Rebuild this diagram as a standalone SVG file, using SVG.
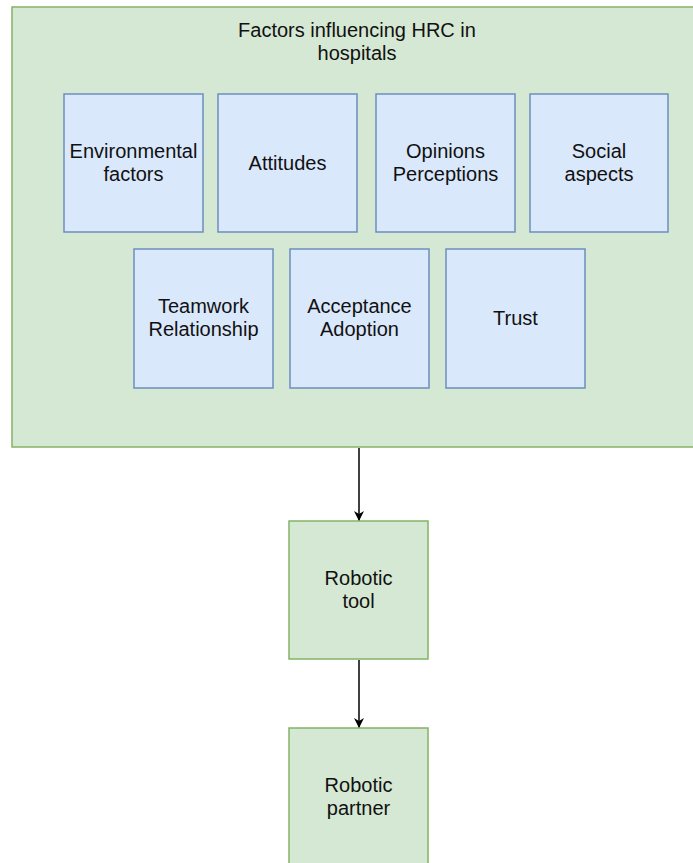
<svg xmlns="http://www.w3.org/2000/svg" width="693" height="863" viewBox="0 0 693 863">
<defs>
<style>
.g{fill:#d5e8d4;stroke:#82b366;stroke-width:1.5}
.b{fill:#dae8fc;stroke:#6c8ebf;stroke-width:1.5}
text{font-family:"Liberation Sans",Arial,Helvetica,sans-serif;font-size:20px;fill:#111;text-anchor:middle}
.c{stroke:#000;stroke-width:1.5;fill:none}
</style>
<marker id="ah" viewBox="0 0 10 10" refX="9" refY="5" markerWidth="10" markerHeight="10" markerUnits="userSpaceOnUse" orient="auto">
<path d="M0,0 L10,5 L0,10 L3,5 Z" fill="#000"/>
</marker>
</defs>
<rect width="693" height="863" fill="#fff"/>
<g id="container">
<rect class="g" x="12" y="7" width="695" height="440"/>
<text x="357" y="37">Factors influencing HRC in</text>
<text x="357" y="60">hospitals</text>
</g>
<g id="env"><rect class="b" x="64" y="94" width="139" height="138"/><text x="133.5" y="158">Environmental</text><text x="133.5" y="181">factors</text></g>
<g id="attitudes"><rect class="b" x="218" y="94" width="139" height="138"/><text x="287.5" y="170">Attitudes</text></g>
<g id="opinions"><rect class="b" x="376" y="94" width="139" height="138"/><text x="445.5" y="158">Opinions</text><text x="445.5" y="181">Perceptions</text></g>
<g id="social"><rect class="b" x="530" y="94" width="138" height="138"/><text x="599" y="158">Social</text><text x="599" y="181">aspects</text></g>
<g id="teamwork"><rect class="b" x="134" y="249" width="139" height="139"/><text x="203.5" y="313">Teamwork</text><text x="203.5" y="336">Relationship</text></g>
<g id="acceptance"><rect class="b" x="290" y="249" width="139" height="139"/><text x="359.5" y="313">Acceptance</text><text x="359.5" y="336">Adoption</text></g>
<g id="trust"><rect class="b" x="446" y="249" width="139" height="139"/><text x="515.5" y="325">Trust</text></g>
<g id="tool"><rect class="g" x="289" y="521" width="139" height="138"/><text x="358.5" y="585">Robotic</text><text x="358.5" y="608">tool</text></g>
<g id="partner"><rect class="g" x="289" y="728" width="139" height="139"/><text x="358.5" y="792">Robotic</text><text x="358.5" y="815">partner</text></g>
<g id="connectors">
<line class="c" x1="359" y1="448" x2="359" y2="520" marker-end="url(#ah)"/>
<line class="c" x1="359" y1="660" x2="359" y2="727" marker-end="url(#ah)"/>
</g>
</svg>
